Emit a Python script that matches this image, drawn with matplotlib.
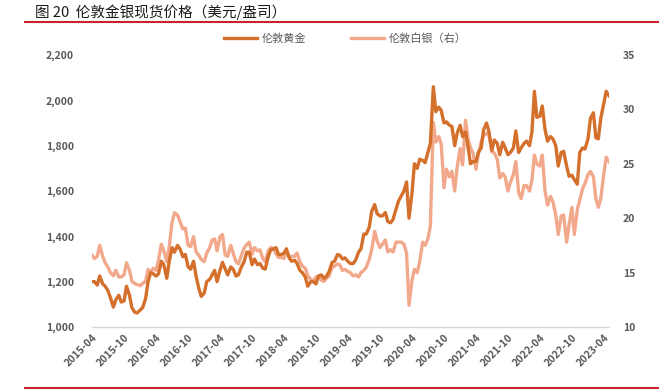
import matplotlib
matplotlib.use("Agg")
import matplotlib.pyplot as plt
import matplotlib.dates as mdates
import pandas as pd

plt.rcParams['font.family'] = ['Noto Sans CJK SC', 'DejaVu Sans']

# semi-monthly readings (1st and 15th), 2015-04 .. 2023-05
gold_2015 = [1200, 1200, 1185, 1225, 1190, 1180, 1160, 1130, 1088, 1120, 1140, 1110, 1115, 1180, 1140, 1085, 1065, 1062]
gold_2016 = [1075, 1085, 1125, 1200, 1240, 1235, 1225, 1235, 1290, 1275, 1215, 1290, 1350, 1330, 1360, 1345, 1310, 1320, 1265, 1255, 1290, 1225, 1170, 1135]
gold_2017 = [1150, 1200, 1210, 1230, 1250, 1200, 1250, 1285, 1255, 1230, 1265, 1255, 1225, 1230, 1265, 1285, 1330, 1330, 1275, 1300, 1275, 1280, 1260, 1255]
gold_2018 = [1310, 1340, 1345, 1350, 1320, 1320, 1325, 1345, 1305, 1290, 1295, 1280, 1250, 1240, 1220, 1180, 1200, 1200, 1190, 1225, 1230, 1215, 1225, 1245]
gold_2019 = [1285, 1290, 1320, 1315, 1300, 1305, 1290, 1280, 1280, 1295, 1330, 1345, 1410, 1410, 1440, 1510, 1540, 1500, 1490, 1490, 1505, 1465, 1460, 1475]
gold_2020 = [1520, 1555, 1580, 1600, 1640, 1480, 1590, 1720, 1700, 1740, 1735, 1725, 1770, 1810, 2060, 1950, 1970, 1955, 1900, 1905, 1890, 1885, 1800, 1855]
gold_2021 = [1890, 1840, 1860, 1795, 1720, 1730, 1730, 1770, 1790, 1870, 1900, 1860, 1780, 1825, 1810, 1760, 1815, 1790, 1760, 1770, 1790, 1865, 1770, 1790]
gold_2022 = [1810, 1820, 1800, 1860, 2040, 1925, 1930, 1975, 1870, 1820, 1840, 1830, 1800, 1710, 1770, 1775, 1710, 1665, 1670, 1650, 1630, 1770, 1790, 1785]
gold_2023 = [1830, 1920, 1945, 1835, 1830, 1920, 1985, 2040, 2020]

silver_2015 = [16.6, 16.3, 16.5, 17.5, 16.5, 15.9, 15.5, 15.0, 14.7, 15.2, 14.6, 14.6, 14.8, 15.9, 15.2, 14.2, 14.0, 13.9]
silver_2016 = [13.8, 14.0, 14.2, 15.3, 15.0, 15.4, 15.2, 16.2, 17.6, 17.0, 16.0, 17.4, 19.6, 20.5, 20.3, 19.7, 19.0, 19.1, 17.5, 17.4, 18.3, 16.9, 16.6, 16.2]
silver_2017 = [16.0, 16.8, 17.3, 18.0, 18.1, 17.0, 18.3, 18.5, 16.6, 16.5, 17.5, 16.8, 16.0, 15.8, 16.6, 17.2, 17.6, 17.8, 16.7, 17.3, 17.0, 17.1, 16.3, 16.0]
silver_2018 = [17.0, 17.3, 17.2, 16.7, 16.4, 16.4, 16.3, 17.0, 16.4, 16.5, 16.5, 16.8, 16.0, 15.6, 15.4, 14.7, 14.4, 14.2, 14.6, 14.6, 14.3, 14.2, 14.5, 14.7]
silver_2019 = [15.5, 15.6, 15.8, 15.7, 15.2, 15.3, 15.1, 15.0, 14.7, 14.8, 14.6, 15.0, 15.2, 15.5, 16.2, 17.1, 18.8, 17.9, 17.3, 17.6, 18.0, 16.9, 17.1, 16.9]
silver_2020 = [17.8, 17.8, 17.8, 17.6, 16.8, 12.0, 14.3, 15.3, 15.0, 16.0, 17.8, 17.5, 18.1, 19.3, 28.8, 27.0, 27.5, 26.8, 22.8, 24.5, 23.8, 24.3, 22.5, 24.7]
silver_2021 = [26.4, 24.9, 29.0, 27.3, 26.5, 26.0, 24.5, 25.9, 27.0, 27.6, 27.8, 27.6, 26.1, 26.0, 25.4, 23.7, 24.1, 23.8, 22.5, 23.3, 24.0, 25.2, 22.4, 21.8]
silver_2022 = [23.0, 23.0, 22.5, 23.5, 25.8, 25.0, 24.8, 25.8, 22.5, 21.2, 22.0, 21.5, 20.3, 18.5, 20.2, 20.3, 17.8, 19.4, 21.0, 18.5, 20.8, 21.7, 22.7, 23.2]
silver_2023 = [24.0, 24.3, 23.8, 21.8, 21.0, 21.8, 24.0, 25.6, 25.2]

gold = (gold_2015 + gold_2016 + gold_2017 + gold_2018 + gold_2019
        + gold_2020 + gold_2021 + gold_2022 + gold_2023)
silver = (silver_2015 + silver_2016 + silver_2017 + silver_2018 + silver_2019
          + silver_2020 + silver_2021 + silver_2022 + silver_2023)
dates = pd.date_range('2015-04-01', '2023-05-01', freq='SMS')

tick_dates = pd.date_range('2015-04-01', '2023-04-01', freq='6MS')

W, H = 659, 391
fig = plt.figure(figsize=(W / 100, H / 100), dpi=100)
ax = fig.add_axes([92 / W, 1 - 327 / H, (609 - 92) / W, (327 - 55) / H])
ax2 = ax.twinx()

grey = '#595959'
l2, = ax2.plot(dates, silver, color='#F2A88B', lw=2.4, label='伦敦白银（右）')
l1, = ax.plot(dates, gold, color='#D4702C', lw=2.4, label='伦敦黄金')
ax.set_zorder(ax2.get_zorder() + 1)
ax.patch.set_visible(False)

ax.set_ylim(1000, 2200)
ax.set_yticks(range(1000, 2201, 200))
ax.set_yticklabels([f'{v:,}' for v in range(1000, 2201, 200)])
ax2.set_ylim(10, 35)
ax2.set_yticks(range(10, 36, 5))
ax.set_xlim(dates[0], dates[-1])

ax.set_xticks(tick_dates)
ax.xaxis.set_major_formatter(mdates.DateFormatter('%Y-%m'))
for lab in ax.get_xticklabels():
    lab.set_rotation(45)
    lab.set_ha('right')
    lab.set_rotation_mode('anchor')

for a in (ax, ax2):
    for s in a.spines.values():
        s.set_visible(False)
    a.tick_params(length=0, labelsize=7.5, labelcolor=grey)
    for lab in a.get_yticklabels() + a.get_xticklabels():
        lab.set_fontweight('bold')
ax.spines['bottom'].set_visible(True)
ax.spines['bottom'].set_color('#D9D9D9')
ax.spines['bottom'].set_linewidth(1.0)
ax.tick_params(axis='y', pad=13)
ax.tick_params(axis='x', pad=4)
ax2.tick_params(axis='y', pad=10)

fig.legend(handles=[l1, l2], loc='center', bbox_to_anchor=(345 / W, 1 - 39 / H),
           ncol=2, frameon=False, fontsize=8, handlelength=3.0,
           columnspacing=4.0, handletextpad=0.4, labelcolor=grey)

fig.text(35 / W, 1 - 12 / H, '图 20  伦敦金银现货价格（美元/盎司）', fontsize=10.5,
         va='center', ha='left', color='#1a1a1a')
red = '#C8232C'
fig.add_artist(plt.Line2D([25 / W, 1], [1 - 21.5 / H] * 2, color=red, lw=1.5))
fig.add_artist(plt.Line2D([25 / W, 1], [1 - 387.5 / H] * 2, color=red, lw=1.5))

fig.savefig('out.png', dpi=100)
